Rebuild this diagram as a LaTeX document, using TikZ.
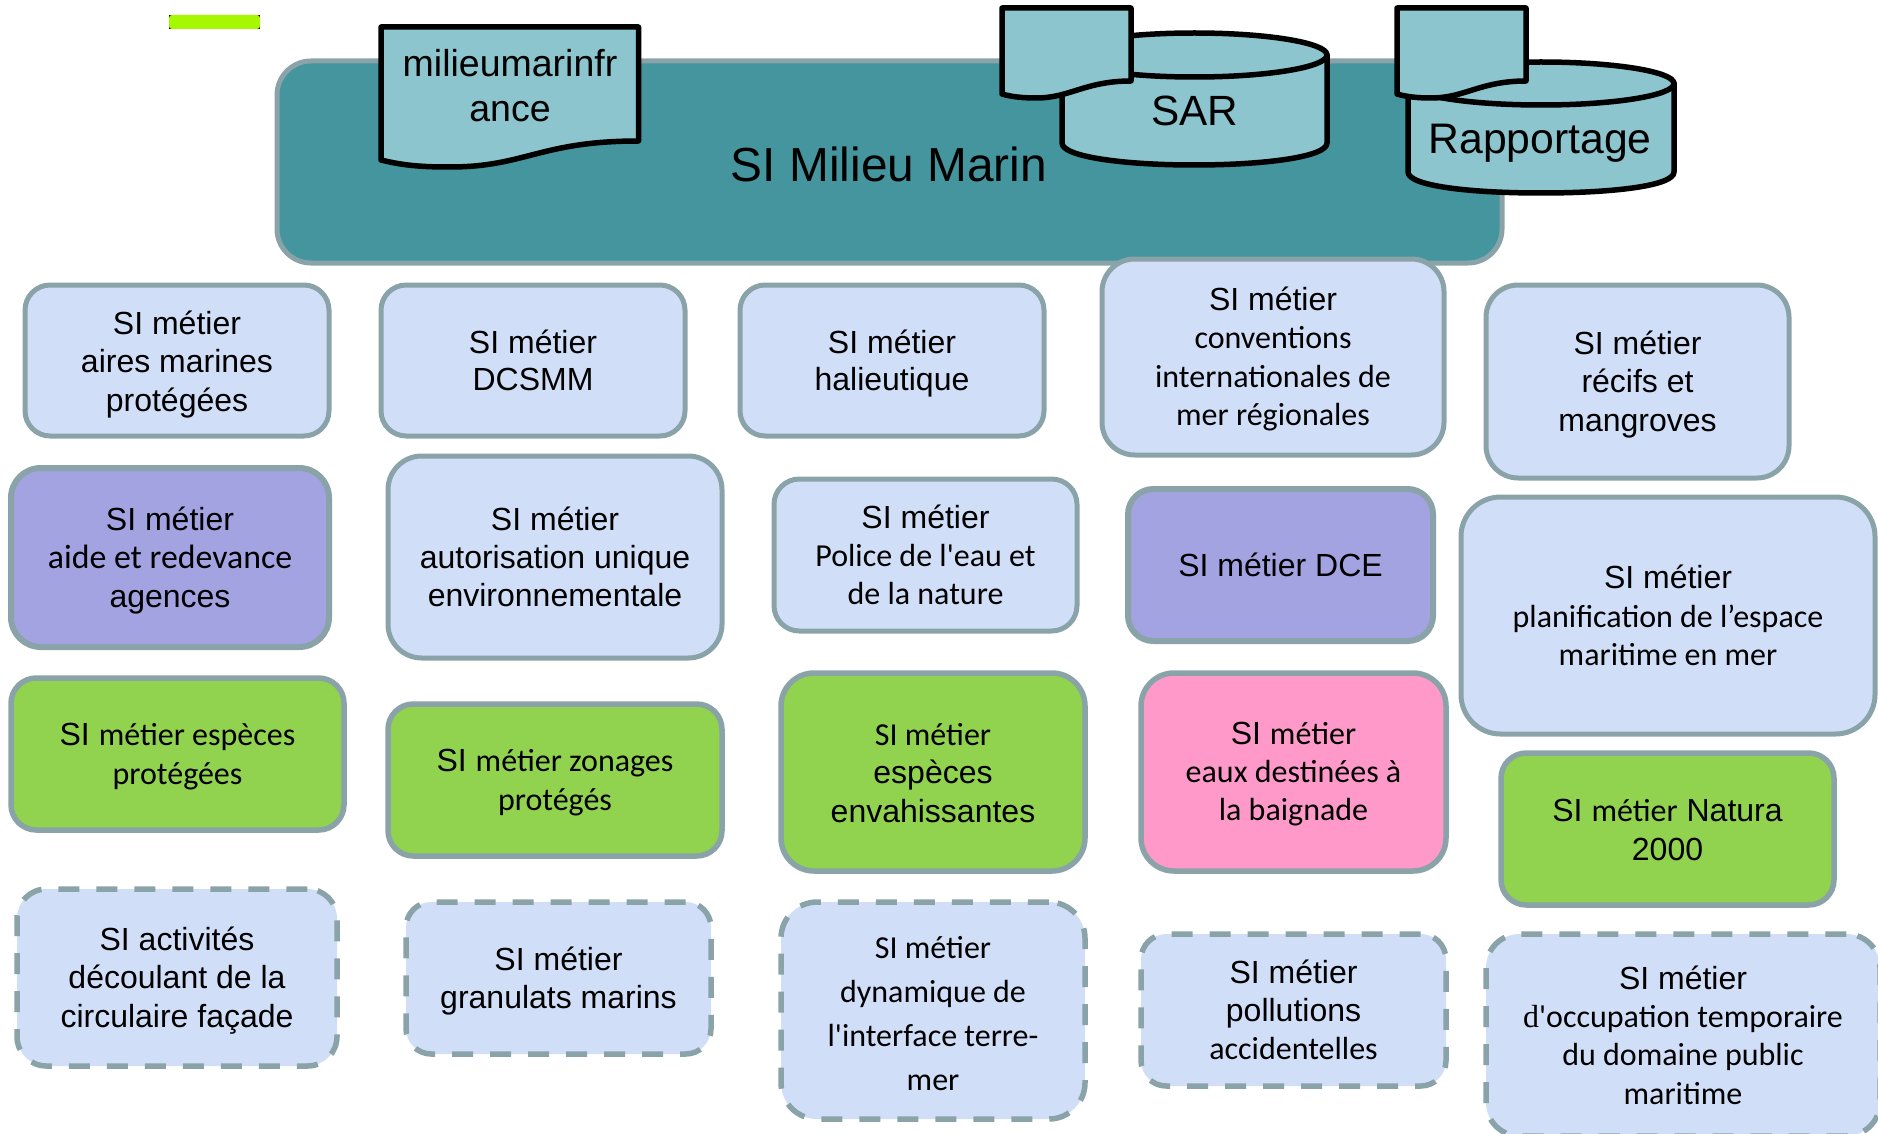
\documentclass[tikz,border=0pt]{standalone}
\usepackage{fontspec}
\setmainfont{Liberation Sans}
\newfontfamily\Cf{Carlito}
\newfontfamily\Tf{Liberation Serif}
\definecolor{edgeg}{HTML}{8AA3A8}
\definecolor{blueb}{HTML}{D0DEF7}
\definecolor{purp}{HTML}{A3A3E2}
\definecolor{greenb}{HTML}{91D24F}
\definecolor{pinkb}{HTML}{FF99C9}
\definecolor{teal1}{HTML}{45959F}
\definecolor{teal2}{HTML}{8CC5CD}
\definecolor{limeb}{HTML}{A6F800}
\newcommand{\C}{\Cf}
\tikzset{
  sibox/.style={draw=edgeg,line width=5pt,inner sep=0pt},
  bluebox/.style={sibox,fill=blueb},
  violbox/.style={sibox,fill=purp,line width=6pt},
  grebox/.style={sibox,fill=greenb,line width=5.5pt},
  pinbox/.style={sibox,fill=pinkb,line width=5.5pt},
  dashbox/.style={sibox,fill=blueb,dash pattern=on 21pt off 17pt,line width=5.5pt},
  tealline/.style={draw=black,line width=5.5pt,line join=round,fill=teal2},
  lbl/.style={align=center,inner sep=0pt,text=black}
}
% name, x1,y1,x2,y2 (pixels of the reference), style, line pitch, text drop, text
\newcommand{\sib}[9]{%
  \pgfmathsetmacro{\bw}{#4-#2}\pgfmathsetmacro{\bh}{#5-#3}%
  \pgfmathsetmacro{\cx}{(#2+#4)/2}\pgfmathsetmacro{\cy}{(#3+#5)/2}%
  \pgfmathsetmacro{\tcy}{\cy+#8}\pgfmathsetmacro{\rad}{min(\bw,\bh)*0.1667}%
  \node[#6,rounded corners=\rad pt,minimum width=\bw pt,minimum height=\bh pt] (#1) at (\cx,\cy) {};
  \node[lbl,font=\fontsize{32pt}{#7pt}\selectfont] (#1t) at (\cx,\tcy) {#9};}
\begin{document}
\begin{tikzpicture}[x=1pt,y=-1pt]
\useasboundingbox (0,0) rectangle (1878,1134);
\fill[black] (169,15) rectangle (260,29);
\fill[limeb,rounded corners=3pt] (169,15) rectangle (260,29);
\node[draw=edgeg,fill=teal1,line width=5pt,rounded corners=34pt,minimum width=1225pt,minimum height=202pt,inner sep=0pt] (main) at (889.5,162) {};
\node[lbl,font=\fontsize{47.8pt}{50pt}\selectfont] (maint) at (889,164) {SI Milieu Marin};
% document 1
\draw[tealline] (381,27) -- (638.5,27) -- (638.5,141) .. controls (540,141) and (525,167) .. (450,167) .. controls (425,167) and (405,166) .. (381,160) -- cycle;
\node[lbl,font=\fontsize{37.5pt}{45pt}\selectfont] (doca) at (510,86) {milieumarinfr\\ance};
% SAR
\draw[tealline] (1062,55) -- (1062,143) .. controls (1062,157) and (1125,165) .. (1194,165) .. controls (1264,165) and (1327,157) .. (1327,143) -- (1327,55) -- cycle;
\draw[tealline] (1194.5,55) ellipse [x radius=132.5pt,y radius=22pt];
\node[lbl,font=\fontsize{42.3pt}{45pt}\selectfont] (sar) at (1194.5,111) {SAR};
\draw[tealline] (1002,8) -- (1131,8) -- (1131,81) .. controls (1085,81) and (1070,98) .. (1036,98) .. controls (1024,98) and (1012,97) .. (1002,94) -- cycle;
% Rapportage
\draw[tealline] (1408,83) -- (1408,172) .. controls (1408,186) and (1470,193) .. (1541,193) .. controls (1612,193) and (1674,186) .. (1674,172) -- (1674,83) -- cycle;
\draw[tealline] (1541,83.5) ellipse [x radius=133pt,y radius=21.5pt];
\node[lbl,font=\fontsize{42.7pt}{45pt}\selectfont] (rap) at (1540,143) {Rapportage};
\draw[tealline] (1397,8) -- (1526,8) -- (1526,81) .. controls (1480,81) and (1465,98) .. (1431,98) .. controls (1419,98) and (1407,97) .. (1397,94) -- cycle;
% row 1
\sib{a1}{25}{285}{329}{436}{bluebox}{38.3}{4}{SI métier\\aires marines\\protégées}
\sib{a2}{381}{285}{685}{436}{bluebox}{37}{0}{SI métier\\DCSMM}
\sib{a3}{740}{285}{1044}{436}{bluebox}{37.5}{3}{SI métier\\halieutique}
\sib{a4}{1102}{259}{1444}{455}{bluebox}{38.3}{2}{SI métier\\{\C conventions}\\{\C internationales de}\\{\C mer régionales}}
\sib{a5}{1486}{285}{1789}{478}{bluebox}{38.3}{3}{SI métier\\récifs et\\mangroves}
% row 2
\sib{b1}{11}{468}{329}{647}{violbox}{38.3}{3}{SI métier\\{\C\fontsize{33.8pt}{38.3pt}\selectfont aide et redevance}\\agences}
\sib{b2}{388}{456}{722}{658}{bluebox}{38.3}{0}{SI métier\\autorisation unique\\environnementale}
\sib{b3}{774}{479}{1077}{631}{bluebox}{38.3}{0}{SI métier\\{\C Police de l'eau et}\\{\C de la nature}}
\sib{b4}{1128}{489}{1433}{641}{violbox}{38}{0}{SI métier DCE}
\sib{b5}{1461}{497}{1875}{734}{bluebox}{38.3}{0}{SI métier\\{\C planification de l’espace}\\{\C maritime en mer}}
% row 3
\sib{c1}{11}{678}{344}{830}{grebox}{39}{3}{SI {\C métier espèces}\\{\C protégées}}
\sib{c2}{388}{704}{722}{856}{grebox}{39}{3}{SI {\C métier zonages}\\{\C protégés}}
\sib{c3}{781}{673}{1085}{871}{grebox}{38.3}{1}{{\C SI métier}\\espèces\\envahissantes}
\sib{c4}{1141}{673}{1446}{871}{pinbox}{38.3}{2}{SI {\C métier}\\{\C eaux destinées à}\\{\C la baignade}}
\sib{c5}{1501}{753}{1834}{905}{grebox}{39.5}{1}{SI {\C métier} Natura\\2000}
% row 4
\sib{d1}{17}{889}{337}{1066}{dashbox}{38.3}{3}{SI activités\\découlant de la\\circulaire façade}
\sib{d2}{406}{902}{711}{1054}{dashbox}{38}{3}{SI métier\\granulats marins}
\sib{d3}{781}{902}{1085}{1119}{dashbox}{44.3}{3}{{\C SI métier}\\{\C dynamique de}\\{\C l'interface terre-}\\{\C mer}}
\sib{d4}{1141}{934}{1446}{1086}{dashbox}{38}{0}{SI métier\\pollutions\\{\C accidentelles}}
\sib{d5}{1486}{934}{1880}{1136}{dashbox}{38.3}{0}{SI métier\\{\Tf d}{\C 'occupation temporaire}\\{\C du domaine public}\\{\C maritime}}
\end{tikzpicture}
\end{document}
